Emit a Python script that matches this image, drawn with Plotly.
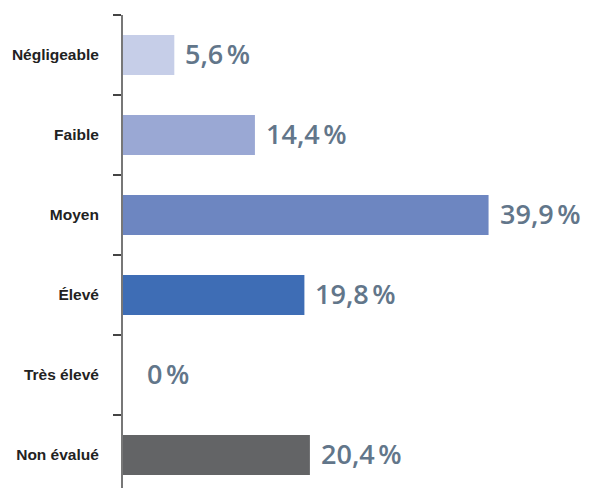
import plotly.graph_objects as go

categories = ["Négligeable", "Faible", "Moyen", "Élevé", "Très élevé", "Non évalué"]
values = [5.6, 14.4, 39.9, 19.8, 0.0, 20.4]
bar_colors = ["#c6cee8", "#9aa8d4", "#6d86c1", "#3e6db5", "#6d86c1", "#636466"]


def fmt(v):
    s = f"{v:.1f}".replace(".", ",")
    if s.endswith(",0"):
        s = s[:-2]
    return s + "\u202f%"


fig = go.Figure()
fig.add_trace(go.Bar(
    x=values,
    y=categories,
    orientation="h",
    marker=dict(color=bar_colors, line=dict(width=0)),
    hoverinfo="skip",
))

for cat, v in zip(categories, values):
    fig.add_annotation(
        x=v, y=cat, xref="x", yref="y",
        text=fmt(v),
        showarrow=False,
        xanchor="left", yanchor="middle",
        xshift=22 if v == 0 else 9,
        yshift=2,
        font=dict(family="Open Sans", size=27, color="#62768a", weight=600),
    )

fig.update_layout(
    width=593, height=488,
    margin=dict(l=123, r=0, t=15, b=0),
    paper_bgcolor="white",
    plot_bgcolor="white",
    bargap=0.5,
    showlegend=False,
    xaxis=dict(
        range=[0, 51.3],
        visible=False,
        showgrid=False,
        zeroline=False,
    ),
    yaxis=dict(
        type="category",
        categoryorder="array",
        categoryarray=categories,
        range=[5.4125, -0.5],
        tickson="boundaries",
        ticks="outside",
        ticklen=8,
        tickwidth=1.5,
        tickcolor="#444444",
        showline=True,
        linecolor="#777777",
        linewidth=2,
        showgrid=False,
        zeroline=False,
        ticklabelstandoff=19,
        tickfont=dict(family="Liberation Sans", size=15.5, color="#222222", weight="bold"),
    ),
)

fig.write_html("out.html")
